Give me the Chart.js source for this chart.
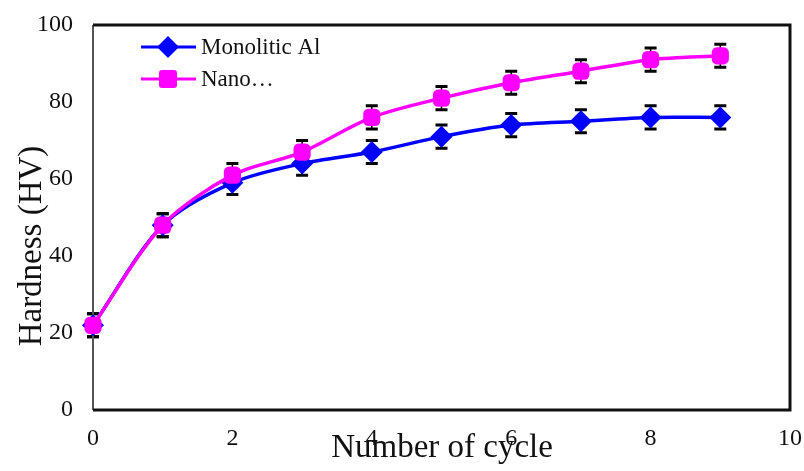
<!DOCTYPE html>
<html>
<head>
<meta charset="utf-8">
<script src="https://cdn.jsdelivr.net/npm/chart.js@4"></script>
<style>
  html, body { margin: 0; padding: 0; background: #fff; }
  #wrap { width: 804px; height: 471px; position: relative; }
</style>
</head>
<body>
<div id="wrap"><canvas id="hardnessChart"></canvas></div>
<script>
// values
const cycles = [0, 1, 2, 3, 4, 5, 6, 7, 8, 9];
const monolithicAl = [22, 48, 59, 64, 67, 71, 74, 75, 76, 76];
const nanoComposite = [22, 48, 61, 67, 76, 81, 85, 88, 91, 92];
const monolithicErr = [3, 3, 3, 3, 3, 3, 3, 3, 3, 3];
const nanoErr = [3, 3, 3, 3, 3, 3, 3, 3, 3, 3];
const seriesNames = ['Monolitic Al', 'Nano\u2026'];
const xTitle = 'Number of cycle';
const yTitle = 'Hardness (HV)';

const serif = '"Liberation Serif", "DejaVu Serif", serif';

function toPoints(xs, ys) {
    return xs.map((x, i) => ({ x: x, y: ys[i] }));
}

// error bars, drawn under the markers
const errorBars = {
    id: 'errorBars',
    beforeDatasetsDraw(chart) {
        const c = chart.ctx;
        const xs = chart.scales.x, ys = chart.scales.y;
        const errs = [monolithicErr, nanoErr];
        c.save();
        c.strokeStyle = '#000';
        chart.data.datasets.forEach((ds, di) => {
            ds.data.forEach((p, i) => {
                const px = xs.getPixelForValue(p.x);
                const top = ys.getPixelForValue(p.y + errs[di][i]);
                const bot = ys.getPixelForValue(p.y - errs[di][i]);
                c.lineWidth = 1.5;
                c.beginPath();
                c.moveTo(px, top); c.lineTo(px, bot);
                c.stroke();
                c.lineWidth = 3;
                c.beginPath();
                c.moveTo(px - 6, top); c.lineTo(px + 6, top);
                c.moveTo(px - 6, bot); c.lineTo(px + 6, bot);
                c.stroke();
            });
        });
        c.restore();
    }
};

// frame, titles and the legend inside the plot
const decorations = {
    id: 'decorations',
    beforeDatasetsDraw(chart) {
        const c = chart.ctx;
        const a = chart.chartArea;
        c.save();
        c.strokeStyle = '#555';
        c.lineWidth = 2;
        c.beginPath();
        c.moveTo(a.left, a.bottom); c.lineTo(a.left, a.top);
        c.stroke();
        c.strokeStyle = '#111';
        c.lineWidth = 3;
        c.beginPath();
        c.moveTo(a.left, a.top); c.lineTo(a.right, a.top);
        c.lineTo(a.right, a.bottom); c.lineTo(a.left, a.bottom);
        c.stroke();
        c.restore();
    },
    afterDraw(chart) {
        const c = chart.ctx;
        c.save();
        // axis titles
        c.fillStyle = '#111';
        c.font = '33px ' + serif;
        c.textAlign = 'center';
        c.textBaseline = 'middle';
        c.fillText(xTitle, 442, 448);
        c.translate(32, 246);
        c.rotate(-Math.PI / 2);
        c.fillText(yTitle, 0, 0);
        c.restore();

        // legend
        c.save();
        const rows = [
            { y: 47, ds: chart.data.datasets[0] },
            { y: 79, ds: chart.data.datasets[1] }
        ];
        rows.forEach(r => {
            c.strokeStyle = r.ds.borderColor;
            c.lineWidth = 3;
            c.beginPath();
            c.moveTo(141, r.y); c.lineTo(196, r.y);
            c.stroke();
            c.fillStyle = r.ds.backgroundColor;
            c.beginPath();
            if (r.ds.pointStyle === 'rectRot') {
                c.moveTo(168, r.y - 11); c.lineTo(179, r.y);
                c.lineTo(168, r.y + 11); c.lineTo(157, r.y);
            } else {
                c.roundRect(159, r.y - 9, 18, 18, 3);
            }
            c.closePath();
            c.fill();
            c.fillStyle = '#111';
            c.font = '23px ' + serif;
            c.textAlign = 'left';
            c.textBaseline = 'middle';
            c.fillText(r.ds.label, 201, r.y + 1);
        });
        c.restore();
    }
};

const ctx = document.getElementById('hardnessChart').getContext('2d');
const hardnessChart = new Chart(ctx, {
    type: 'line',
    data: {
        datasets: [
            {
                label: seriesNames[0],
                data: toPoints(cycles, monolithicAl),
                borderColor: '#0000ff',
                backgroundColor: '#0000ff',
                borderWidth: 3.5,
                tension: 0.3,
                pointStyle: 'rectRot',
                pointRadius: 11,
                pointBorderWidth: 0,
                clip: false,
                order: 1
            },
            {
                label: seriesNames[1],
                data: toPoints(cycles, nanoComposite),
                borderColor: '#ff00ff',
                backgroundColor: '#ff00ff',
                borderWidth: 3.5,
                tension: 0.3,
                pointStyle: 'rectRounded',
                pointRadius: 10,
                pointBorderWidth: 0,
                clip: false,
                order: 0
            }
        ]
    },
    options: {
        responsive: true,
        maintainAspectRatio: false,
        animation: false,
        layout: { padding: { top: 25, right: 14, left: 0, bottom: 0 } },
        plugins: {
            legend: { display: false },
            tooltip: { enabled: false }
        },
        scales: {
            x: {
                type: 'linear',
                min: 0,
                max: 10,
                afterFit(s) { s.height = 61; s.paddingRight = 0; s.paddingLeft = 0; },
                ticks: {
                    stepSize: 2,
                    color: '#111',
                    padding: 8,
                    font: { family: serif, size: 24 }
                },
                grid: { display: false, drawTicks: true, tickLength: 6, tickColor: '#888' },
                border: { display: false }
            },
            y: {
                min: 0,
                max: 100,
                afterFit(s) { s.width = 93; s.paddingTop = 0; s.paddingBottom = 0; },
                ticks: {
                    stepSize: 20,
                    color: '#111',
                    padding: 14,
                    font: { family: serif, size: 24 }
                },
                grid: { display: false, drawTicks: true, tickLength: 6, tickColor: '#888' },
                border: { display: false }
            }
        }
    },
    plugins: [errorBars, decorations]
});
</script>
</body>
</html>
